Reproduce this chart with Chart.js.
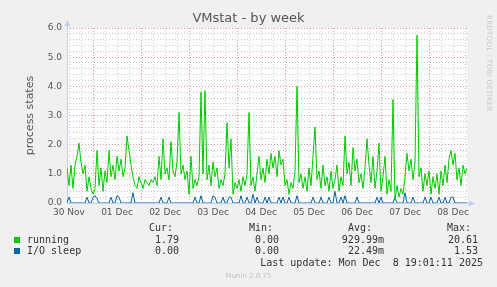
<!DOCTYPE html>
<html>
<head>
<meta charset="utf-8">
<script src="https://cdn.jsdelivr.net/npm/chart.js@4.4.1/dist/chart.umd.min.js"></script>
<style>
  html, body { margin: 0; padding: 0; background: #f0f0f0; }
  #wrap { position: relative; width: 497px; height: 287px; overflow: hidden; background: #f0f0f0; }
  #c { position: absolute; left: 0; top: 0; }
  .t { position: absolute; white-space: pre; }
  .mono { font-family: "DejaVu Sans Mono", monospace; font-size: 10px; color: #333; line-height: 12px; }
  .title { font-family: "DejaVu Sans", sans-serif; font-size: 13px; color: #555; left: 0; width: 497px; text-align: center; top: 10px; line-height: 16px; }
  .sq { position: absolute; width: 6px; height: 6px; }
  .munin { font-family: "DejaVu Sans", sans-serif; font-size: 7px; color: #c0c0c0; left: 0; width: 497px; text-align: center; top: 272px; }
  .rrd { font-family: "DejaVu Sans", sans-serif; font-size: 7px; color: #c8c8c8; left: 485px; top: 15px; writing-mode: vertical-rl; letter-spacing: 0.3px; }
</style>
</head>
<body>
<div id="wrap">
  <canvas id="c" width="497" height="287"></canvas>
  <div class="t title">VMstat - by week</div>
  <div class="t rrd">RRDTOOL / TOBI OETIKER</div>
  <div id="legend"></div>
  <div class="t munin">Munin 2.0.75</div>
</div>
<script>
// ---- data ----
const startLabel = "30 Nov 11:00";          // hour 0 of the series
const tickLabels = ["30 Nov", "01 Dec", "02 Dec", "03 Dec", "04 Dec", "05 Dec", "06 Dec", "07 Dec", "08 Dec"];
const yTickLabels = ["0.0", "1.0", "2.0", "3.0", "4.0", "5.0", "6.0"];

// hourly samples, hour 0 .. 200
const running = [
  1.2, 0.6, 1.3, 0.5, 1.3, 1.6, 2.05, 1.4, 1.0, 1.3,
  0.4, 0.9, 0.5, 0.3, 0.5, 1.8, 0.6, 1.2, 0.4, 1.1,
  0.7, 1.8, 0.9, 1.3, 0.8, 1.6, 1.1, 1.5, 0.9, 1.2,
  2.3, 1.8, 1.3, 0.9, 0.6, 0.5, 0.9, 0.7, 0.5, 0.8,
  0.7, 0.6, 0.8, 0.7, 0.9, 0.6, 1.6, 0.8, 2.2, 1.0,
  1.2, 0.8, 2.1, 1.1, 0.9, 1.4, 3.1, 1.0, 1.3, 0.8,
  1.1, 0.3, 1.6, 0.5, 0.8, 0.6, 0.9, 3.8, 1.0, 3.85,
  0.8, 1.3, 0.6, 1.4, 0.9, 1.2, 0.5, 0.8, 0.6, 1.0,
  2.75, 1.2, 2.2, 0.3, 0.7, 0.5, 0.8, 0.4, 0.9, 0.6,
  1.0, 3.1, 0.6, 0.9, 0.4, 1.0, 1.6, 0.8, 1.2, 0.7,
  1.5, 1.0, 1.7, 1.2, 1.6, 0.9, 1.8, 1.3, 1.5, 0.6,
  0.8, 0.3, 0.7, 0.5, 1.1, 4.0, 0.7, 1.0, 0.5, 0.9,
  0.4, 1.2, 0.6, 1.6, 2.6, 0.8, 1.1, 0.5, 1.3, 0.6,
  0.9, 0.4, 1.1, 0.5, 0.8, 1.3, 0.4, 0.9, 0.6, 2.3,
  1.0, 1.4, 0.6, 1.9, 1.1, 1.5, 0.7, 1.0, 0.5, 1.2,
  2.2, 1.3, 0.7, 1.6, 0.5, 1.1, 2.05, 0.4, 0.9, 1.6,
  0.3, 0.8, 0.4, 3.55, 0.1, 0.6, 0.2, 0.5, 0.3, 0.9,
  1.7, 1.1, 1.5, 0.8, 1.4, 5.75, 0.9, 1.2, 0.4, 1.0,
  0.6, 1.1, 0.3, 0.9, 0.5, 1.0, 0.3, 1.1, 0.6, 1.3,
  0.7, 1.5, 1.8, 1.3, 1.7, 0.8, 1.2, 0.6, 1.3, 1.0,
  1.2
];
const ioSleep = [
  0, 0.2, 0, 0, 0, 0, 0, 0, 0, 0,
  0.2, 0, 0, 0.2, 0.25, 0.15, 0, 0, 0, 0,
  0, 0, 0.2, 0, 0, 0.25, 0.2, 0, 0, 0,
  0, 0, 0, 0.35, 0, 0, 0, 0, 0, 0,
  0, 0, 0, 0, 0, 0, 0, 0.2, 0, 0,
  0, 0.2, 0, 0, 0, 0, 0, 0, 0, 0,
  0, 0, 0, 0, 0.2, 0, 0, 0.25, 0, 0,
  0, 0, 0, 0.25, 0.2, 0, 0, 0, 0.2, 0,
  0, 0.2, 0.2, 0, 0, 0, 0, 0.25, 0, 0,
  0.2, 0, 0, 0.3, 0, 0.2, 0, 0, 0, 0.2,
  0, 0.2, 0, 0, 0, 0, 0.2, 0, 0.2, 0,
  0, 0.2, 0, 0, 0, 0.25, 0, 0, 0, 0,
  0, 0, 0, 0.2, 0, 0, 0, 0.2, 0, 0,
  0, 0.2, 0, 0, 0.4, 0, 0, 0.2, 0, 0.25,
  0, 0, 0, 0, 0, 0.2, 0, 0, 0, 0,
  0, 0, 0, 0, 0, 0.2, 0, 0.2, 0, 0,
  0, 0, 0, 0, 0.2, 0, 0, 0, 0, 0.35,
  0, 0, 0, 0.2, 0, 0, 0, 0, 0, 0.2,
  0, 0, 0.2, 0, 0, 0, 0.2, 0, 0, 0.2,
  0, 0, 0.2, 0.2, 0, 0, 0, 0, 0, 0,
  0
];
const seriesNames = ["running", "I/O sleep"];
const seriesColors = ["#00cc00", "#0066b3"];
const cur = ["1.79", "0.00"];
const mins = ["0.00", "0.00"];
const avgs = ["929.99m", "22.49m"];
const maxs = ["20.61", "1.53"];
const lastUpdate = "Last update: Mon Dec  8 19:01:11 2025";

// ---- legend (HTML text) ----
const lg = document.getElementById('legend');
function addText(txt, rightEdge, top) {
  const d = document.createElement('div');
  d.className = 't mono';
  d.textContent = txt;
  d.style.right = (497 - rightEdge) + 'px';
  d.style.top = top + 'px';
  lg.appendChild(d);
}
function addLeft(txt, left, top) {
  const d = document.createElement('div');
  d.className = 't mono';
  d.textContent = txt;
  d.style.left = left + 'px';
  d.style.top = top + 'px';
  lg.appendChild(d);
}
addText("Cur:", 173, 222);
addText("Min:", 273, 222);
addText("Avg:", 372, 222);
addText("Max:", 471, 222);
for (let i = 0; i < 2; i++) {
  const top = 234 + i * 11;
  const sq = document.createElement('div');
  sq.className = 'sq';
  sq.style.left = '14px';
  sq.style.top = (top + 3) + 'px';
  sq.style.background = seriesColors[i];
  lg.appendChild(sq);
  addLeft(seriesNames[i], 27, top);
  addText(cur[i], 179, top);
  addText(mins[i], 279, top);
  addText(avgs[i], 384, top);
  addText(maxs[i], 478, top);
}
addText(lastUpdate, 483, 257);

// ---- chart ----
const hours = running.map((_, i) => i);
const isInt = v => Math.abs(v - Math.round(v)) < 1e-6;

const plotBg = {
  id: 'plotBg',
  beforeDraw(chart) {
    const {ctx, chartArea: a} = chart;
    ctx.save();
    ctx.fillStyle = '#ffffff';
    ctx.fillRect(a.left, a.top, a.right - a.left, a.bottom - a.top);
    ctx.restore();
  },
  beforeDatasetsDraw(chart) {
    const {ctx, chartArea: a} = chart;
    ctx.save();
    ctx.strokeStyle = '#c6cdf2';
    ctx.fillStyle = '#c6cdf2';
    ctx.lineWidth = 1;
    ctx.beginPath();
    ctx.moveTo(a.left + 0.5, a.bottom);
    ctx.lineTo(a.left + 0.5, a.top - 4);
    ctx.moveTo(a.left, a.bottom + 0.5);
    ctx.lineTo(a.right + 4, a.bottom + 0.5);
    ctx.stroke();
    ctx.beginPath();
    ctx.moveTo(a.left + 0.5, a.top - 8);
    ctx.lineTo(a.left - 2.5, a.top - 2);
    ctx.lineTo(a.left + 3.5, a.top - 2);
    ctx.closePath();
    ctx.fill();
    ctx.beginPath();
    ctx.moveTo(a.right + 8, a.bottom + 0.5);
    ctx.lineTo(a.right + 2, a.bottom - 2.5);
    ctx.lineTo(a.right + 2, a.bottom + 3.5);
    ctx.closePath();
    ctx.fill();
    ctx.restore();
  }
};

new Chart(document.getElementById('c'), {
  type: 'line',
  data: {
    datasets: [
      { label: seriesNames[0], data: hours.map(h => ({x: h, y: running[h]})), borderColor: seriesColors[0], borderWidth: 1, pointRadius: 0, tension: 0, fill: false },
      { label: seriesNames[1], data: hours.map(h => ({x: h, y: ioSleep[h]})), borderColor: seriesColors[1], borderWidth: 1, pointRadius: 0, tension: 0, fill: false }
    ]
  },
  options: {
    responsive: false,
    animation: false,
    layout: { padding: { top: 28, left: 0, right: 30, bottom: 64 } },
    plugins: { legend: { display: false }, tooltip: { enabled: false }, title: { display: false } },
    scales: {
      x: {
        type: 'linear', min: 0, max: 200,
        afterBuildTicks: s => {
          const t = [];
          for (let h = 1; h <= 200; h += 6) t.push({ value: h });
          s.ticks = t;
        },
        afterFit: s => { s.height = 20; },
        grid: {
          drawTicks: false,
          lineWidth: 1,
          color: c => (c.tick && ((c.tick.value - 13) % 24 === 0)) ? 'rgba(225,120,120,0.75)' : 'rgba(190,190,190,0.8)'
        },
        border: { display: false, dash: [1, 2] },
        ticks: {
          autoSkip: false, maxRotation: 0, minRotation: 0, padding: 4,
          color: '#555',
          font: { family: 'DejaVu Sans', size: 9 },
          callback: v => ((v - 1) % 24 === 0) ? tickLabels[(v - 1) / 24] : ''
        }
      },
      y: {
        min: 0, max: 6,
        afterBuildTicks: s => {
          const t = [];
          for (let i = 0; i <= 30; i++) t.push({ value: i * 0.2 });
          s.ticks = t;
        },
        afterFit: s => { s.width = 67; },
        title: { display: true, text: 'process states', color: '#555', font: { family: 'DejaVu Sans', size: 11 }, padding: { top: 24, bottom: 0 } },
        grid: {
          drawTicks: false,
          lineWidth: 1,
          color: c => (c.tick && isInt(c.tick.value)) ? 'rgba(225,120,120,0.75)' : 'rgba(190,190,190,0.8)'
        },
        border: { display: false, dash: [1, 2] },
        ticks: {
          autoSkip: false, padding: 5,
          color: '#555',
          font: { family: 'DejaVu Sans', size: 9 },
          callback: v => isInt(v) ? yTickLabels[Math.round(v)] : ''
        }
      }
    }
  },
  plugins: [plotBg]
});
</script>
</body>
</html>
